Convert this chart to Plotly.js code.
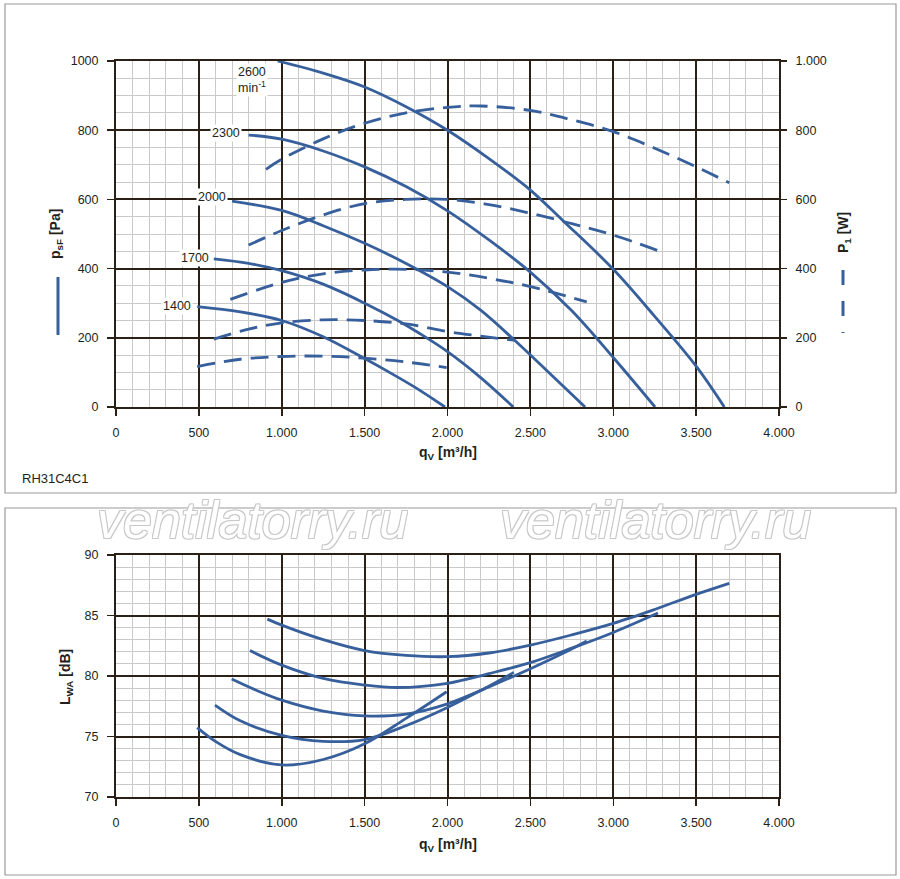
<!DOCTYPE html>
<html><head><meta charset="utf-8">
<script src="https://cdn.plot.ly/plotly-3.0.1.min.js"></script>
<style>body{margin:0;background:#fff}</style>
</head><body><div id="chart" style="width:900px;height:879px"></div>
<script>
// ---- tick labels ----
const flowTicks = [0,500,1000,1500,2000,2500,3000,3500,4000];
const flowTickText = ['0','500','1.000','1.500','2.000','2.500','3.000','3.500','4.000'];
const pressTicks = [0,200,400,600,800,1000];
const pressTickText = ['0','200','400','600','800','1000'];
const powerTickText = ['0','200','400','600','800','1.000'];
const lwaTicks = [70,75,80,85,90];
const lwaTickText = ['70','75','80','85','90'];
const speedLabels = ['2600<br>min<sup>-1</sup>','2300','2000','1700','1400'];

// ---- static pressure p_sF [Pa] ----
const qP2600 = [975,1250,1500,1750,2000,2250,2500,2700,3000,3250,3500,3670];
const pP2600 = [1000,965,925,868,800,718,627,537,398,262,118,0];
const qP2300 = [800,1000,1250,1500,1750,2000,2250,2500,2750,3000,3252];
const pP2300 = [786,774,740,694,637,567,483,390,278,143,0];
const qP2000 = [700,1000,1250,1500,1750,2000,2200,2400,2600,2830];
const pP2000 = [595,568,524,473,415,348,280,195,105,0];
const qP1700 = [590,800,1000,1250,1500,1700,1830,2000,2200,2397];
const pP1700 = [428,415,394,355,300,250,213,160,85,0];
const qP1400 = [490,750,1000,1250,1500,1650,1800,1985];
const pP1400 = [290,275,250,203,140,100,58,0];

// ---- power input P_1 [W] ----
const qW2600 = [905,1000,1250,1500,1750,2000,2200,2500,2750,3000,3250,3500,3700];
const pW2600 = [687,716,775,820,850,866,870,857,830,796,748,694,648];
const qW2300 = [800,1000,1250,1500,1750,2000,2250,2500,2750,3000,3270];
const pW2300 = [468,510,555,588,600,600,585,560,530,497,452];
const qW2000 = [690,1000,1250,1500,1750,2000,2250,2500,2840];
const pW2000 = [311,360,385,396,398,390,372,348,304];
const qW1700 = [590,800,1000,1250,1500,1750,2000,2200,2400];
const pW1700 = [196,225,243,252,250,240,218,205,193];
const qW1400 = [490,750,1000,1250,1500,1750,1995];
const pW1400 = [117,138,146,147,141,130,114];

// ---- sound power L_WA [dB] ----
const qL2600 = [913,1000,1250,1500,1750,2000,2250,2500,2750,3000,3250,3500,3700];
const vL2600 = [84.7,84.2,83.0,82.1,81.7,81.6,81.9,82.55,83.4,84.35,85.5,86.75,87.66];
const qL2300 = [808,1000,1250,1500,1700,2000,2250,2500,2750,3000,3270];
const vL2300 = [82.1,80.9,79.8,79.25,79.05,79.4,80.2,81.1,82.3,83.6,85.2];
const qL2000 = [698,850,1000,1250,1500,1750,2000,2250,2500,2700,2840];
const vL2000 = [79.75,78.8,78.0,77.1,76.7,76.85,77.7,79.1,80.6,81.9,82.9];
const qL1700 = [597,750,1000,1250,1500,1750,2000,2200,2400];
const vL1700 = [77.6,76.3,75.1,74.6,74.75,75.9,77.4,78.8,80.3];
const qL1400 = [490,600,750,1000,1250,1500,1750,1995];
const vL1400 = [75.74,74.6,73.5,72.65,73.1,74.4,76.5,78.7];

// label anchor points (data coords) for speed labels
const labelQ = [724,760,676,573,465];
const labelP = [945,792,607,431,292];

const BLUE = '#375f9b';
const DARK = '#2a2015';
const MINOR = '#c9c9c9';
const FONT = 'Liberation Sans, Arial, Helvetica, sans-serif';
const W = 900, H = 879;
const px = v => v / W;
const py = v => 1 - v / H;

function solid(x, y, xa, ya) {
  return {x, y, xaxis: xa, yaxis: ya, mode: 'lines', line: {color: BLUE, width: 2.8, shape: 'spline', smoothing: 1}, hoverinfo: 'skip', showlegend: false};
}
function dashed(x, y) {
  return {x, y, xaxis: 'x', yaxis: 'y2', mode: 'lines', line: {color: BLUE, width: 2.8, dash: '18px,9px', shape: 'spline', smoothing: 1}, hoverinfo: 'skip', showlegend: false};
}

const data = [
  solid(qP2600, pP2600, 'x', 'y'), solid(qP2300, pP2300, 'x', 'y'), solid(qP2000, pP2000, 'x', 'y'),
  solid(qP1700, pP1700, 'x', 'y'), solid(qP1400, pP1400, 'x', 'y'),
  dashed(qW2600, pW2600), dashed(qW2300, pW2300), dashed(qW2000, pW2000), dashed(qW1700, pW1700), dashed(qW1400, pW1400),
  solid(qL2600, vL2600, 'x2', 'y3'), solid(qL2300, vL2300, 'x2', 'y3'), solid(qL2000, vL2000, 'x2', 'y3'),
  solid(qL1700, vL1700, 'x2', 'y3'), solid(qL1400, vL1400, 'x2', 'y3')
];

const tickFont = {family: FONT, size: 12.5, color: '#231f20'};
function xAxis(anchor, dom) {
  return {domain: dom, anchor, range: [0, 4000], tickvals: flowTicks, ticktext: flowTickText,
    showgrid: true, gridcolor: DARK, gridwidth: 2, zeroline: false,
    showline: true, mirror: true, linecolor: DARK, linewidth: 2,
    ticks: 'outside', ticklen: 7, tickwidth: 1.5, tickcolor: DARK, tickfont: tickFont, ticklabelstandoff: 6,
    minor: {dtick: 100, tick0: 0, showgrid: true, gridcolor: MINOR, gridwidth: 1, ticks: ''}, fixedrange: true};
}
const xDom = [px(116), px(779)];

const layout = {
  width: W, height: H, margin: {l: 0, r: 0, t: 0, b: 0},
  paper_bgcolor: '#fff', plot_bgcolor: '#fff', showlegend: false,
  xaxis: xAxis('y', xDom),
  xaxis2: xAxis('y3', xDom),
  yaxis: {domain: [py(407), py(61)], anchor: 'x', range: [0, 1000], tickvals: pressTicks, ticktext: pressTickText,
    showgrid: true, gridcolor: DARK, gridwidth: 2, zeroline: false, showline: true, mirror: true, linecolor: DARK, linewidth: 2,
    ticks: 'outside', ticklen: 7, tickwidth: 1.5, tickcolor: DARK, tickfont: tickFont, ticklabelstandoff: 6,
    minor: {dtick: 50, tick0: 0, showgrid: true, gridcolor: MINOR, gridwidth: 1, ticks: ''}, fixedrange: true},
  yaxis2: {overlaying: 'y', side: 'right', anchor: 'x', range: [0, 1000], tickvals: pressTicks, ticktext: powerTickText,
    showgrid: false, zeroline: false, showline: false,
    ticks: 'outside', ticklen: 7, tickwidth: 1.5, tickcolor: DARK, tickfont: tickFont, ticklabelstandoff: 6, fixedrange: true},
  yaxis3: {domain: [py(797), py(555)], anchor: 'x2', range: [70, 90], tickvals: lwaTicks, ticktext: lwaTickText,
    showgrid: true, gridcolor: DARK, gridwidth: 2, zeroline: false, showline: true, mirror: true, linecolor: DARK, linewidth: 2,
    ticks: 'outside', ticklen: 7, tickwidth: 1.5, tickcolor: DARK, tickfont: tickFont, ticklabelstandoff: 6,
    minor: {dtick: 1, tick0: 70, showgrid: true, gridcolor: MINOR, gridwidth: 1, ticks: ''}, fixedrange: true},
  shapes: [
    {type: 'rect', xref: 'paper', yref: 'paper', x0: px(5), x1: px(896), y0: py(493), y1: py(4), line: {color: '#9a9a9a', width: 1.2}, layer: 'below'},
    {type: 'rect', xref: 'paper', yref: 'paper', x0: px(5), x1: px(896), y0: py(875), y1: py(508), line: {color: '#9a9a9a', width: 1.2}, layer: 'below'},
    {type: 'line', xref: 'paper', yref: 'paper', x0: px(58), x1: px(58), y0: py(277), y1: py(335), line: {color: BLUE, width: 3}},
    {type: 'line', xref: 'paper', yref: 'paper', x0: px(843), x1: px(843), y0: py(270), y1: py(333), line: {color: BLUE, width: 3, dash: '15px,16px'}}
  ],
  annotations: []
};

const titleFont = {family: FONT, size: 14, color: '#231f20'};
const A = layout.annotations;
A.push({xref: 'paper', yref: 'paper', x: px(447.5), y: py(453), text: '<b>q<sub>V</sub> [m³/h]</b>', showarrow: false, font: titleFont, xanchor: 'center', yanchor: 'middle'});
A.push({xref: 'paper', yref: 'paper', x: px(447.5), y: py(845), text: '<b>q<sub>V</sub> [m³/h]</b>', showarrow: false, font: titleFont, xanchor: 'center', yanchor: 'middle'});
A.push({xref: 'paper', yref: 'paper', x: px(56), y: py(234), text: '<b>p<sub>sF</sub> [Pa]</b>', textangle: -90, showarrow: false, font: titleFont, xanchor: 'center', yanchor: 'middle'});
A.push({xref: 'paper', yref: 'paper', x: px(844), y: py(233), text: '<b>P<sub>1</sub> [W]</b>', textangle: -90, showarrow: false, font: titleFont, xanchor: 'center', yanchor: 'middle'});
A.push({xref: 'paper', yref: 'paper', x: px(66), y: py(677), text: '<b>L<sub>WA</sub> [dB]</b>', textangle: -90, showarrow: false, font: titleFont, xanchor: 'center', yanchor: 'middle'});
A.push({xref: 'paper', yref: 'paper', x: px(20), y: py(478), text: 'RH31C4C1', showarrow: false, font: {family: FONT, size: 13, color: '#231f20'}, xanchor: 'left', yanchor: 'middle'});

speedLabels.forEach((t, i) => {
  A.push({xref: 'x', yref: 'y', x: labelQ[i], y: labelP[i], text: t, showarrow: false,
    font: {family: FONT, size: 12.5, color: '#231f20'}, bgcolor: '#fff', borderpad: 1,
    xanchor: i === 0 ? 'left' : 'right', yanchor: 'middle', align: 'left'});
});

const wm = {family: FONT, size: 52, color: '#ffffff', style: 'italic',
  shadow: '-1px -1px 0 #c8c8c8, 1px -1px 0 #c8c8c8, -1px 1px 0 #c8c8c8, 1px 1px 0 #c8c8c8'};
A.push({xref: 'paper', yref: 'paper', x: px(252), y: py(520), text: 'ventilatorry.ru', showarrow: false, font: wm, xanchor: 'center', yanchor: 'middle'});
A.push({xref: 'paper', yref: 'paper', x: px(655), y: py(520), text: 'ventilatorry.ru', showarrow: false, font: wm, xanchor: 'center', yanchor: 'middle'});

Plotly.newPlot('chart', data, layout, {staticPlot: true, displayModeBar: false});
</script>
</body></html>
